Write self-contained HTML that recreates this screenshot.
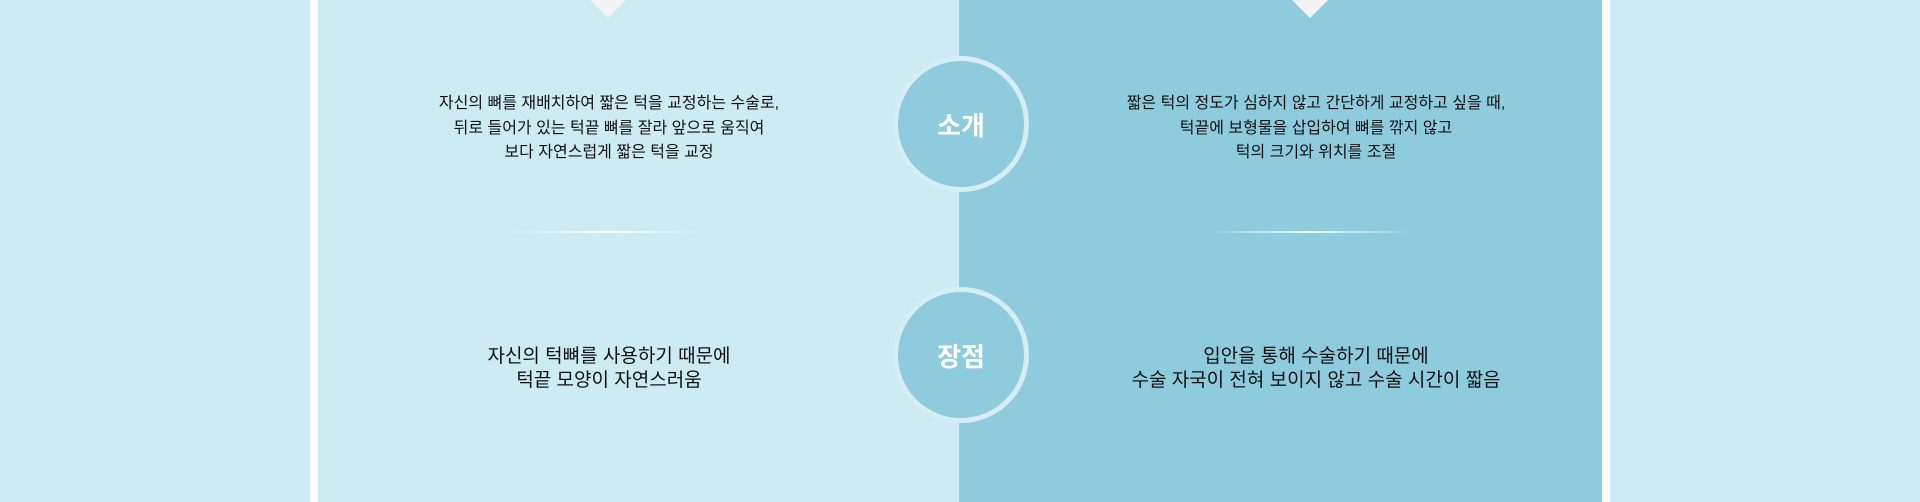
<!DOCTYPE html>
<html><head><meta charset="utf-8"><style>
*{margin:0;padding:0;box-sizing:border-box}
body{width:1920px;height:502px;overflow:hidden;background:#cdebf3;position:relative;font-family:"Liberation Sans","Noto Sans CJK KR",sans-serif;color:#111}
.a{position:absolute}
.t{position:absolute;text-align:center;transform:translateX(-50%);white-space:nowrap}
.c{position:absolute;width:136px;height:136px;border-radius:50%;background:#8ecbdc;border:5px solid #d5eef5;color:#fff;font-weight:bold;font-size:26px;display:flex;align-items:center;justify-content:center}
.tri{position:absolute;top:0;width:0;height:0;border-left:18px solid transparent;border-right:18px solid transparent;border-top:18px solid #f4f4f4}
.ln{position:absolute;height:2px;background:linear-gradient(90deg,rgba(255,255,255,0),rgba(255,255,255,.9),rgba(255,255,255,0))}
</style></head><body>
<div class="a" style="left:310px;top:0;width:8px;height:502px;background:#fff"></div>
<div class="a" style="left:1602px;top:0;width:8px;height:502px;background:#fff"></div>
<div class="a" style="left:959px;top:0;width:643px;height:502px;background:#8ecbdc"></div>
<div class="tri" style="left:590px"></div>
<div class="tri" style="left:1292px"></div>
<div class="t" style="left:609px;top:92px;font-size:16px;line-height:24.5px">자신의 뼈를 재배치하여 짧은 턱을 교정하는 수술로,<br>뒤로 들어가 있는 턱끝 뼈를 잘라 앞으로 움직여<br>보다 자연스럽게 짧은 턱을 교정</div>
<div class="t" style="left:1316px;top:92px;font-size:16px;line-height:24.5px">짧은 턱의 정도가 심하지 않고 간단하게 교정하고 싶을 때,<br>턱끝에 보형물을 삽입하여 뼈를 깎지 않고<br>턱의 크기와 위치를 조절</div>
<div class="ln" style="left:509px;top:231px;width:196px"></div>
<div class="ln" style="left:1206px;top:231px;width:208px"></div>
<div class="t" style="left:609px;top:345px;font-size:19px;line-height:24px">자신의 턱뼈를 사용하기 때문에<br>턱끝 모양이 자연스러움</div>
<div class="t" style="left:1316px;top:345px;font-size:19px;line-height:24px">입안을 통해 수술하기 때문에<br>수술 자국이 전혀 보이지 않고 수술 시간이 짧음</div>
<div class="c" style="left:893px;top:56px">소개</div>
<div class="c" style="left:893px;top:287px">장점</div>
</body></html>
